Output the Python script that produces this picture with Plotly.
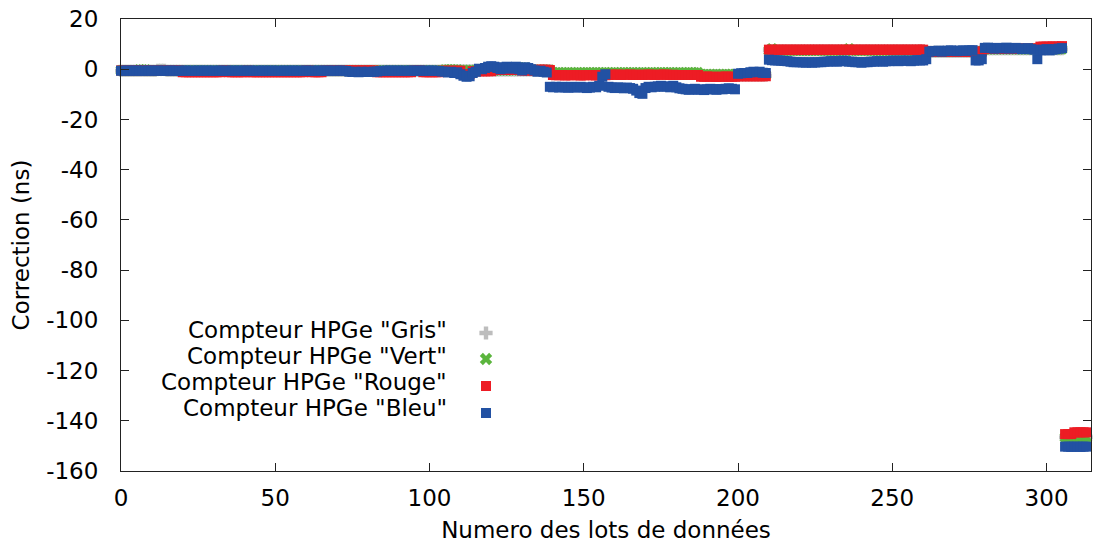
import plotly.graph_objects as go

# Batch index (0..313)
lots = list(range(314))

# Time correction per HPGe counter (ns)
gris = [
    -0.6, -0.6, -0.6, -0.6, -0.6, -0.6, -0.6, -0.6, -0.6, -0.6, -0.6, -0.6, -0.2, -0.2, -0.2, -0.6, -0.6, -0.6, -0.6, -0.6,
    -0.6, -0.6, -0.6, -0.6, -0.6, -0.6, -0.6, -0.6, -0.6, -0.6, -0.6, -0.6, -0.6, -0.6, -0.6, -0.6, -0.6, -0.6, -0.6, -0.6,
    -0.6, -0.6, -0.6, -0.6, -0.6, -0.6, -0.6, -0.6, -0.6, -0.6, -0.6, -0.6, -0.6, -0.6, -0.6, -0.6, -0.6, -0.6, -0.6, -0.6,
    -0.6, -0.6, -0.6, -0.6, -0.6, -0.6, -0.6, -0.6, -0.6, -0.6, -0.6, -0.6, -0.6, -0.6, -0.6, -0.6, -0.6, -0.6, -0.6, -0.6,
    -0.6, -0.6, -0.6, -0.6, -0.6, -0.6, -0.6, -0.6, -0.6, -0.6, -0.6, -0.6, -0.6, -0.6, -0.6, -0.6, -0.6, -0.6, -0.6, -0.6,
    -0.6, -0.6, -0.6, -0.6, -0.6, -0.5, -0.5, -0.5, -0.5, -0.5, -0.5, -0.5, -0.5, -0.5, -0.5, -0.5, -0.5, -0.5, -0.5, -0.5,
    -0.5, -0.5, -0.5, -0.5, -0.5, -0.5, -0.5, -0.5, -0.5, -0.5, -0.5, -0.5, -0.5, -0.5, -0.5, -0.5, -0.5, -0.5, -0.5, -0.5,
    -1.8, -1.8, -1.8, -1.8, -1.8, -1.8, -1.8, -1.8, -1.8, -1.8, -1.8, -1.8, -1.8, -1.8, -1.8, -1.8, -1.8, -1.8, -1.8, -1.8,
    -1.8, -1.8, -1.8, -1.8, -1.8, -1.8, -1.8, -1.8, -1.8, -1.8, -1.8, -1.8, -1.8, -1.8, -1.8, -1.8, -1.8, -1.8, -1.8, -1.8,
    -1.8, -1.8, -1.8, -1.8, -1.8, -1.8, -1.8, -1.8, -2.4, -2.4, -2.4, -2.4, -2.4, -2.4, -2.4, -2.4, -2.4, -2.4, -2.4, -2.4,
    -2.5, -2.5, -2.5, -2.5, -2.5, -2.5, -2.5, -2.5, -2.5, -2.5, 7.6, 7.6, 7.6, 7.6, 7.6, 7.6, 7.6, 7.6, 7.6, 7.6,
    7.6, 7.6, 7.6, 7.6, 7.6, 7.6, 7.6, 7.6, 7.6, 7.6, 7.6, 7.6, 7.6, 7.6, 7.6, 7.6, 7.6, 7.6, 7.6, 7.6,
    7.6, 7.6, 7.6, 7.6, 7.6, 7.6, 7.6, 7.6, 7.6, 7.6, 7.6, 7.6, 7.6, 7.6, 7.6, 7.6, 7.6, 7.6, 7.6, 7.6,
    7.6, 7.0, 7.0, 7.0, 7.0, 7.0, 7.0, 7.0, 7.0, 7.0, 7.0, 7.0, 7.0, 7.0, 7.0, 7.0, 7.0, 7.0, 7.0, 7.0,
    8.0, 8.0, 8.0, 8.0, 8.0, 8.0, 8.0, 8.0, 8.0, 8.0, 8.0, 8.0, 8.0, 8.0, 8.0, 8.0, 8.0, 8.0, 8.0, 8.0,
    8.0, 8.0, 8.0, 8.0, 8.0, 8.0, -146.6, -146.6, -146.6, -146.6, -146.6, -146.6, -146.6, -146.6,
]

vert = [
    -0.5, -0.5, -0.5, -0.5, -0.5, -0.5, -0.2, -0.2, -0.2, -0.5, -0.5, -0.5, -0.5, -0.5, -0.5, -0.5, -0.5, -0.5, -0.5, -0.5,
    -0.5, -0.5, -0.5, -0.5, -0.5, -0.5, -0.5, -0.5, -0.5, -0.5, -0.5, -0.5, -0.5, -0.5, -0.5, -0.5, -0.5, -0.5, -0.5, -0.5,
    -0.5, -0.5, -0.5, -0.5, -0.5, -0.5, -0.5, -0.5, -0.5, -0.5, -0.5, -0.5, -0.5, -0.5, -0.5, -0.5, -0.5, -0.5, -0.5, -0.5,
    -0.5, -0.5, -0.5, -0.5, -0.5, -0.5, -0.5, -0.5, -0.5, -0.5, -0.5, -0.5, -0.5, -0.5, -0.5, -0.5, -0.5, -0.5, -0.5, -0.5,
    -0.5, -0.5, -0.5, -0.5, -0.5, -0.5, -0.5, -0.5, -0.5, -0.5, -0.5, -0.5, -0.5, -0.5, -0.5, -0.5, -0.5, -0.5, -0.5, -0.5,
    -0.5, -0.5, -0.5, -0.5, -0.5, -0.2, -0.2, -0.2, -0.2, -0.2, -0.4, -0.4, -0.4, -0.4, -0.4, -0.4, -0.4, -0.4, -0.4, -0.4,
    -0.4, -0.4, -0.4, -0.4, -0.4, -0.4, -0.4, -0.4, 0.6, 0.6, 0.6, 0.6, -0.3, -0.3, -0.3, -0.3, -0.3, -0.3, -0.3, -0.3,
    -1.4, -1.4, -1.3, -1.4, -1.4, -1.3, -1.4, -1.4, -1.3, -1.4, -1.4, -1.3, -1.4, -1.4, -1.3, -1.4, -1.4, -1.3, -1.4, -1.4,
    -1.3, -1.4, -1.4, -1.3, -1.4, -1.4, -1.3, -1.4, -1.4, -1.3, -1.4, -1.4, -1.3, -1.4, -1.4, -1.3, -1.4, -1.4, -1.3, -1.4,
    -1.4, -1.3, -1.4, -1.4, -1.3, -1.4, -1.4, -1.3, -2.1, -2.1, -2.0, -2.1, -2.1, -2.0, -2.1, -2.1, -2.0, -2.1, -2.1, -2.0,
    -2.3, -2.3, -2.3, -2.3, -2.3, -2.3, -2.3, -2.3, -2.3, -2.3, 7.4, 8.2, 7.4, 7.4, 7.4, 7.4, 7.4, 7.4, 7.4, 7.4,
    7.4, 7.4, 7.4, 7.4, 7.4, 7.4, 7.4, 7.4, 7.4, 7.4, 7.4, 7.4, 7.4, 7.4, 7.4, 7.4, 8.2, 7.4, 7.4, 7.4,
    7.4, 7.4, 7.4, 7.4, 7.4, 7.4, 7.4, 7.4, 7.4, 7.4, 7.4, 7.4, 7.4, 7.4, 7.4, 7.4, 7.4, 7.4, 7.4, 7.4,
    7.4, 7.0, 7.0, 7.0, 7.0, 7.0, 7.0, 7.0, 7.0, 7.0, 7.0, 7.0, 7.0, 7.0, 7.0, 7.0, 7.0, 7.0, 7.0, 7.0,
    8.0, 8.0, 8.0, 8.0, 8.0, 8.0, 8.0, 8.0, 8.0, 8.0, 8.0, 8.0, 8.0, 8.0, 8.0, 8.0, 8.0, 8.0, 8.0, 8.0,
    8.0, 8.0, 8.0, 8.0, 8.0, 8.0, -146.6, -146.6, -146.6, -146.6, -146.6, -146.6, -146.6, -146.6,
]

rouge = [
    -0.5, -0.5, -0.5, -0.5, -0.5, -0.5, -0.5, -0.5, -0.5, -0.5, -0.5, -0.5, -0.5, -0.5, -0.5, -0.5, -0.5, -0.5, -0.5, -0.5,
    -1.2, -1.2, -1.2, -1.2, -1.2, -1.2, -1.2, -1.2, -1.2, -1.2, -1.2, -1.2, -1.2, -0.5, -0.5, -1.2, -1.2, -1.2, -1.2, -1.2,
    -1.2, -0.5, -1.2, -1.2, -1.2, -1.2, -1.2, -1.2, -1.2, -1.2, -1.2, -1.2, -1.2, -1.2, -1.2, -1.2, -1.2, -1.2, -1.2, -1.2,
    -0.5, -0.5, -1.2, -1.2, -1.2, -1.2, -0.5, -0.5, -0.5, -0.5, -0.5, -0.5, -0.5, -0.5, -0.5, -0.5, -0.5, -0.5, -0.5, -0.5,
    -0.5, -0.5, -0.5, -1.2, -1.2, -1.2, -1.2, -1.2, -1.2, -1.2, -1.2, -1.2, -1.2, -1.2, -1.2, -0.5, -0.5, -0.5, -1.2, -1.2,
    -1.2, -1.2, -1.2, -1.2, -0.6, -0.6, -0.6, -0.6, -0.6, -0.6, -0.6, -2.0, -2.0, -2.0, -0.8, -0.8, -0.8, -0.8, -0.8, -0.8,
    -0.8, -0.3, -0.3, -0.3, -0.3, -0.3, -0.3, -0.3, -0.3, -0.3, -0.5, -0.5, -0.5, -0.5, -0.5, -0.2, -0.2, -0.2, -0.2, -0.3,
    -2.3, -2.4, -2.4, -2.3, -2.5, -2.4, -2.4, -2.3, -2.4, -2.5, -2.4, -2.4, -2.3, -2.4, -2.5, -2.4, -2.3, -2.4, -2.2, -2.2,
    -2.2, -2.1, -2.3, -2.2, -2.2, -2.1, -2.3, -2.2, -2.2, -2.3, -2.2, -2.1, -2.2, -2.3, -2.2, -2.2, -2.1, -2.2, -2.3, -2.2,
    -2.3, -2.3, -2.3, -2.3, -2.3, -2.3, -2.3, -2.3, -3.0, -3.0, -2.9, -3.0, -3.0, -3.1, -3.0, -3.0, -2.9, -3.0, -3.0, -3.0,
    -2.8, -2.8, -2.8, -2.8, -2.8, -2.8, -2.8, -2.8, -2.8, -2.8, 7.8, 7.8, 7.7, 7.8, 7.8, 7.7, 7.8, 7.8, 7.7, 7.8,
    7.8, 7.7, 7.8, 7.8, 7.7, 7.8, 7.8, 7.7, 7.8, 7.8, 7.7, 7.8, 7.8, 7.7, 7.8, 7.8, 7.7, 7.8, 7.8, 7.7,
    7.8, 7.8, 7.7, 7.8, 7.8, 7.7, 7.8, 7.8, 7.7, 7.8, 7.8, 7.7, 7.8, 7.8, 7.7, 7.8, 7.8, 7.7, 7.8, 7.8,
    7.8, 7.0, 7.0, 7.0, 7.0, 7.0, 7.0, 7.0, 7.0, 7.0, 7.0, 7.0, 7.0, 7.0, 7.0, 7.0, 7.0, 7.0, 7.0, 7.0,
    8.2, 8.2, 8.2, 8.2, 8.2, 8.2, 8.2, 8.2, 8.2, 8.2, 8.2, 8.2, 8.2, 8.2, 8.2, 8.2, 8.2, 8.2, 9.0, 9.0,
    9.0, 9.0, 9.1, 9.0, 9.0, 9.2, -145.3, -145.3, -145.3, -144.6, -144.6, -144.6, -144.6, -144.6,
]

bleu = [
    -0.6, -0.6, -0.5, -0.6, -0.6, -0.5, -0.6, -0.6, -0.6, -0.5, -0.6, -0.6, -0.5, -0.6, -0.6, -0.6, -0.5, -0.6, -0.6, -0.6,
    -0.6, -0.5, -0.6, -0.6, -0.6, -0.5, -0.6, -0.6, -0.5, -0.6, -0.6, -0.6, -0.5, -0.6, -0.6, -0.6, -0.5, -0.6, -0.6, -0.5,
    -0.6, -0.6, -0.5, -0.6, -0.6, -0.6, -0.5, -0.6, -0.6, -0.5, -0.6, -0.6, -0.6, -0.5, -0.6, -0.6, -0.5, -0.6, -0.6, -0.6,
    -0.5, -0.6, -0.6, -0.6, -0.5, -0.6, -0.6, -0.5, -0.6, -0.6, -0.6, -0.5, -0.6, -0.7, -1.0, -1.1, -1.0, -1.2, -1.0, -1.1,
    -1.0, -1.1, -1.0, -0.9, -0.7, -0.6, -0.6, -0.5, -0.6, -0.6, -0.5, -0.6, -0.6, -0.6, -0.5, -0.6, -0.6, -0.5, -0.6, -0.6,
    -0.6, -0.5, -0.6, -0.7, -0.9, -1.0, -1.3, -1.0, -1.5, -1.2, -2.0, -2.6, -3.0, -2.8, -1.5, -1.0, 0.2, 0.0, 0.5, 1.0,
    1.2, 1.0, 0.5, 0.0, 0.8, 1.0, 0.2, 0.8, 1.0, 0.0, -0.5, 0.8, 0.5, 0.0, -0.5, -1.0, -0.6, -1.0, -1.3, -7.0,
    -7.2, -7.0, -7.3, -7.0, -7.2, -7.4, -7.0, -7.2, -7.3, -7.0, -7.2, -7.5, -7.3, -7.0, -7.2, -6.6, -3.0, -2.0, -7.0, -7.3,
    -7.5, -7.2, -7.4, -7.6, -7.3, -7.5, -7.8, -8.5, -9.5, -9.8, -7.5, -7.0, -7.2, -7.0, -6.8, -6.6, -7.0, -6.8, -7.2, -6.6,
    -7.2, -7.6, -7.8, -8.0, -8.2, -8.0, -7.8, -8.2, -8.0, -8.3, -8.0, -7.8, -8.0, -8.2, -7.9, -8.0, -7.8, -7.6, -7.8, -8.0,
    -1.8, -1.6, -1.5, -1.5, -1.2, -1.0, -1.2, -1.0, -1.4, -1.5, 3.8, 3.6, 3.5, 3.5, 3.4, 3.3, 3.2, 3.0, 2.8, 2.8,
    2.8, 2.7, 2.6, 2.8, 2.6, 2.7, 2.8, 2.8, 3.0, 3.0, 3.2, 3.2, 3.0, 3.2, 3.4, 3.2, 3.0, 3.0, 2.8, 2.8,
    2.6, 2.8, 2.8, 3.0, 3.0, 3.2, 3.2, 3.0, 3.2, 3.2, 3.4, 3.4, 3.2, 3.4, 3.4, 3.4, 3.2, 3.4, 3.6, 3.5,
    3.5, 4.0, 7.0, 7.2, 7.2, 7.4, 7.0, 7.2, 7.4, 7.5, 7.3, 7.2, 7.4, 7.5, 7.3, 7.5, 7.6, 3.5, 3.5, 4.0,
    8.5, 8.6, 8.4, 8.2, 8.5, 8.3, 8.4, 8.6, 8.2, 8.4, 8.5, 8.3, 8.0, 8.2, 8.4, 8.0, 7.8, 4.0, 7.5, 7.8,
    8.0, 7.5, 7.8, 8.0, 8.2, 8.4, -150.3, -150.3, -150.4, -150.3, -150.3, -150.4, -150.3, -150.3,
]

noms = ['Compteur HPGe "Gris"', 'Compteur HPGe "Vert"', 'Compteur HPGe "Rouge"', 'Compteur HPGe "Bleu"']
series = [gris, vert, rouge, bleu]
couleurs = ["#bdbdbd", "#5bb53d", "#ed1c24", "#2251a3"]
symboles = ["cross", "x", "square", "square"]

y_ticks = [20, 0, -20, -40, -60, -80, -100, -120, -140, -160]
x_ticks = [0, 50, 100, 150, 200, 250, 300]

FONT = "DejaVu Sans"
FS = 23
W, H = 1093, 544
L, R, T, B = 121, 2, 19, 73

fig = go.Figure()
for nom, ys, c, s in zip(noms, series, couleurs, symboles):
    fig.add_trace(go.Scatter(
        x=lots, y=ys, mode="markers", name=nom, showlegend=False,
        marker=dict(symbol=s, size=10, color=c, line=dict(width=0)),
        cliponaxis=False,
    ))

# key: labels right-aligned, symbol to the right (pixel-like overlay axes)
key_y_text = [330, 356, 382, 408]
key_y_mark = [333, 359, 386, 413]
for nom, c, s, yt, ym in zip(noms, couleurs, symboles, key_y_text, key_y_mark):
    fig.add_trace(go.Scatter(
        x=[486], y=[ym], mode="markers", xaxis="x2", yaxis="y2", showlegend=False,
        marker=dict(symbol=s, size=10 if s == "square" else 11, color=c, line=dict(width=0)),
        hoverinfo="skip",
    ))
    fig.add_annotation(x=449, y=yt, xref="x2", yref="y2", text=nom, showarrow=False,
                       xanchor="right", yanchor="middle",
                       font=dict(family=FONT, size=FS, color="black"))

axis_common = dict(
    showline=True, linecolor="#222222", linewidth=1, mirror="ticks",
    ticks="inside", ticklen=8, tickcolor="#222222", tickwidth=1,
    showgrid=False, zeroline=False,
    tickfont=dict(family=FONT, size=FS, color="black"),
)

fig.update_layout(
    width=W, height=H,
    margin=dict(l=L, r=R, t=T, b=B),
    paper_bgcolor="white", plot_bgcolor="white",
    xaxis=dict(range=[0, 314.4], tickvals=x_ticks, ticktext=[str(v) for v in x_ticks],
               title=dict(text="Numero des lots de données", standoff=12,
                          font=dict(family=FONT, size=FS, color="black")),
               ticklabelstandoff=6, **axis_common),
    yaxis=dict(range=[-160, 20], tickvals=y_ticks, ticktext=[str(v) for v in y_ticks],
               title=dict(text="Correction (ns)", standoff=10,
                          font=dict(family=FONT, size=FS, color="black")),
               ticklabelstandoff=17, **axis_common),
    xaxis2=dict(range=[L, W - R], overlaying="x", visible=False, fixedrange=True),
    yaxis2=dict(range=[H - B, T], overlaying="y", visible=False, fixedrange=True),
    showlegend=False,
)

fig.write_html("out.html")
